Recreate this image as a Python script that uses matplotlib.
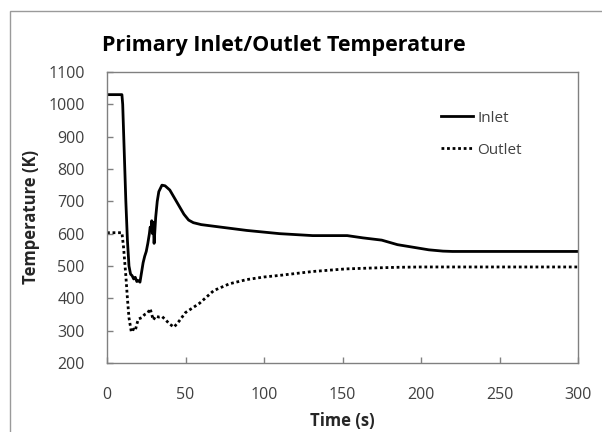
import matplotlib
matplotlib.use("Agg")
import matplotlib.pyplot as plt
from matplotlib.patches import Rectangle

inlet_t = [0, 9.5, 10, 11, 12, 13, 14, 15, 16, 17, 18, 19, 20, 21, 22, 23, 24, 25, 26, 27,
           27.5, 28, 28.5, 29, 29.5, 30, 31, 32, 33, 35, 37, 40, 43, 46, 49, 52, 55, 60, 68,
           89, 110, 131, 153, 163, 175, 185, 195, 205, 214, 220, 300]
inlet_T = [1030, 1030, 1000, 850, 700, 580, 500, 475, 470, 460, 465, 452, 455, 450, 480, 510,
           530, 545, 570, 600, 620, 610, 640, 600, 635, 570, 650, 700, 730, 750, 748, 735, 710,
           685, 660, 642, 634, 628, 623, 610, 600, 594, 594, 587, 580, 566, 558, 550, 546, 545, 545]

outlet_t = [0, 9.5, 10.5, 12, 13, 14, 15.5, 17, 18, 19, 20, 22, 24, 26, 27.5, 28.5, 29.5, 31,
            33, 35, 37, 40, 42.7, 46, 50, 55, 59, 68, 78, 89, 100, 110, 131, 152, 170, 185,
            200, 300]
outlet_T = [603, 603, 560, 470, 400, 340, 296, 305, 300, 320, 336, 340, 350, 355, 368, 350,
            333, 345, 342, 344, 335, 320, 311, 330, 356, 372, 385, 424, 445, 458, 466, 471,
            483, 491, 494, 496, 497, 497]

title = "Primary Inlet/Outlet Temperature"
xlabel = "Time (s)"
ylabel = "Temperature (K)"
xticks = [0, 50, 100, 150, 200, 250, 300]
yticks = [200, 300, 400, 500, 600, 700, 800, 900, 1000, 1100]

plt.rcParams['font.family'] = ['Open Sans', 'DejaVu Sans']

fig = plt.figure(figsize=(6.02, 4.32), dpi=100)
fig.patches.append(Rectangle((10 / 602, -0.1), 1.2, 1 - 11 / 432 + 0.1,
                             transform=fig.transFigure, fill=False,
                             edgecolor='#9a9a9a', linewidth=1.0))
ax = fig.add_axes([107 / 602, 1 - 363 / 432, (578 - 107) / 602, (363 - 72) / 432])

ax.plot(inlet_t, inlet_T, color='black', linewidth=2.0, label='Inlet')
ax.plot(outlet_t, outlet_T, color='black', linewidth=2.0, linestyle=(0, (1, 1)), label='Outlet')

ax.set_xlim(0, 300)
ax.set_ylim(200, 1100)
ax.set_xticks(xticks)
ax.set_yticks(yticks)
ax.tick_params(direction='in', length=4, color='#808080', labelcolor='#404040',
               labelsize=11.5, width=1)
ax.tick_params(axis='x', pad=17)
ax.tick_params(axis='y', pad=16)
for s in ax.spines.values():
    s.set_color('#808080')
    s.set_linewidth(1.0)

ax.set_xlabel(xlabel, fontsize=12, fontweight='bold', color='#262626', labelpad=7)
ax.set_ylabel(ylabel, fontsize=12, fontweight='bold', color='#262626', labelpad=6)
fig.text(284 / 602, 1 - 45 / 432, title, ha='center', va='center', fontsize=15.5,
         fontweight='bold', color='black')

leg = ax.legend(loc='upper left', bbox_to_anchor=(427 / 602, 1 - 97 / 432),
                bbox_transform=fig.transFigure, frameon=False, fontsize=11,
                handlelength=2.1, handletextpad=0.3, labelspacing=1.1, labelcolor='#404040')

fig.savefig("out.png", dpi=100)
